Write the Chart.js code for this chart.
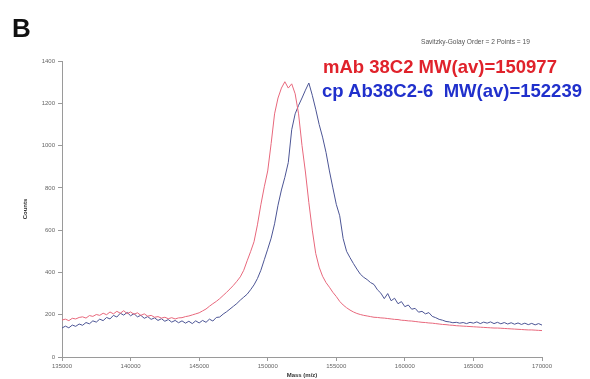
<!DOCTYPE html>
<html>
<head>
<meta charset="utf-8">
<script src="https://cdn.jsdelivr.net/npm/chart.js@4.4.0/dist/chart.umd.min.js"></script>
<style>
  html, body { margin: 0; padding: 0; background: #fff; }
  #wrap { position: relative; width: 590px; height: 379px; }
  #c { position: absolute; left: 0; top: 0; }
  .t { position: absolute; white-space: pre; font-family: "Liberation Sans", Arial, sans-serif; line-height: 1; }
  #panel { left: 12px; top: 15px; font-size: 26px; font-weight: bold; color: #111; }
  #smooth { left: 421px; top: 39px; font-size: 6.6px; color: #555; }
  #lab1 { left: 323px; top: 58px; font-size: 18.5px; font-weight: bold; color: #e0222b; }
  #lab2 { left: 322px; top: 82px; font-size: 18.5px; font-weight: bold; color: #2030cc; }
</style>
</head>
<body>
<div id="wrap">
  <canvas id="c" width="590" height="379"></canvas>
  <div class="t" id="panel">B</div>
  <div class="t" id="smooth">Savitzky-Golay Order = 2 Points = 19</div>
  <div class="t" id="lab1">mAb 38C2 MW(av)=150977</div>
  <div class="t" id="lab2">cp Ab38C2-6  MW(av)=152239</div>
</div>
<script>
const masses = [
  135000,135250,135500,135750,136000,136250,136500,136750,137000,137250,
  137500,137750,138000,138250,138500,138750,139000,139250,139500,139750,
  140000,140250,140500,140750,141000,141250,141500,141750,142000,142250,
  142500,142750,143000,143250,143500,143750,144000,144250,144500,144750,
  145000,145250,145500,145750,146000,146250,146500,146750,147000,147250,
  147500,147750,148000,148250,148500,148750,149000,149250,149500,149750,
  150000,150250,150500,150750,151000,151250,151500,151750,152000,152250,
  152500,152750,153000,153250,153500,153750,154000,154250,154500,154750,
  155000,155250,155500,155750,156000,156250,156500,156750,157000,157250,
  157500,157750,158000,158250,158500,158750,159000,159250,159500,159750,
  160000,160250,160500,160750,161000,161250,161500,161750,162000,162250,
  162500,162750,163000,163250,163500,163750,164000,164250,164500,164750,
  165000,165250,165500,165750,166000,166250,166500,166750,167000,167250,
  167500,167750,168000,168250,168500,168750,169000,169250,169500,169750,
  170000
];
const mAbCounts = [
  175,179,172,183,180,187,190,184,196,192,
  201,197,207,200,213,204,216,207,219,205,
  213,202,209,197,204,193,197,188,191,184,
  188,181,186,180,185,186,191,194,199,204,
  209,218,227,240,252,263,276,291,306,322,
  339,358,379,410,455,498,545,625,720,805,
  880,1010,1150,1225,1272,1302,1272,1292,1245,1150,
  1000,875,730,600,490,425,382,352,330,306,
  286,263,246,233,222,213,206,201,197,194,
  191,188,187,185,184,182,180,178,177,174,
  173,171,170,168,166,164,163,161,160,158,
  156,154,153,151,150,148,147,146,145,144,
  143,142,141,140,139,138,137,137,136,135,
  134,133,132,131,130,129,128,128,127,126,
  125
];
const cpCounts = [
  137,146,138,151,145,156,150,163,157,171,
  165,179,172,187,180,197,189,207,198,211,
  195,205,190,197,183,191,178,185,173,181,
  169,177,165,173,162,171,160,169,158,171,
  161,173,164,179,170,187,189,203,214,227,
  240,253,269,283,297,318,341,371,410,460,
  510,562,630,718,790,850,920,1075,1150,1190,
  1225,1262,1296,1238,1172,1100,1040,968,880,800,
  722,668,560,500,470,442,416,392,377,366,
  352,343,318,302,276,300,266,278,252,262,
  238,246,226,230,212,216,204,210,192,186,
  178,174,168,166,162,164,160,163,158,164,
  160,166,158,165,160,166,158,164,157,163,
  156,162,155,161,154,160,153,159,152,158,
  151
];
const xTicks = [135000,140000,145000,150000,155000,160000,165000,170000];
const yTicks = [0,200,400,600,800,1000,1200,1400];

const toPts = (ys) => masses.map((m, i) => ({ x: m, y: ys[i] }));
const axisColor = '#9a9a9a';
const tickFont = { family: 'Liberation Sans, Arial, sans-serif', size: 6 };
const titleFont = { family: 'Liberation Sans, Arial, sans-serif', size: 6, weight: 'bold' };

new Chart(document.getElementById('c'), {
  type: 'line',
  data: {
    datasets: [
      { label: 'mAb 38C2', data: toPts(mAbCounts), borderColor: '#e8687c', borderWidth: 1, pointRadius: 0, tension: 0 },
      { label: 'cp Ab38C2-6', data: toPts(cpCounts), borderColor: '#4c5595', borderWidth: 1, pointRadius: 0, tension: 0 }
    ]
  },
  options: {
    responsive: false,
    animation: false,
    layout: { padding: { left: 22, right: 48, top: 61, bottom: 0 } },
    plugins: { legend: { display: false }, tooltip: { enabled: false } },
    scales: {
      x: {
        type: 'linear', min: 135000, max: 170000,
        afterBuildTicks: s => { s.ticks = xTicks.map(v => ({ value: v })); },
        afterFit: s => { s.height = 22; },
        ticks: { font: tickFont, color: '#666', padding: 2, maxRotation: 0, autoSkip: false, callback: v => String(v) },
        grid: { drawOnChartArea: false, tickLength: 4, color: axisColor },
        border: { color: axisColor },
        title: { display: true, text: 'Mass (m/z)', font: titleFont, color: '#333', padding: { top: 0, bottom: 0 } }
      },
      y: {
        min: 0, max: 1400,
        afterBuildTicks: s => { s.ticks = yTicks.map(v => ({ value: v })); },
        afterFit: s => { s.width = 40; },
        ticks: { font: tickFont, color: '#666', padding: 3, callback: v => String(v) },
        grid: { drawOnChartArea: false, tickLength: 4, color: axisColor },
        border: { color: axisColor },
        title: { display: true, text: 'Counts', font: titleFont, color: '#333', padding: { top: 0, bottom: 0 } }
      }
    }
  }
});
</script>
</body>
</html>
